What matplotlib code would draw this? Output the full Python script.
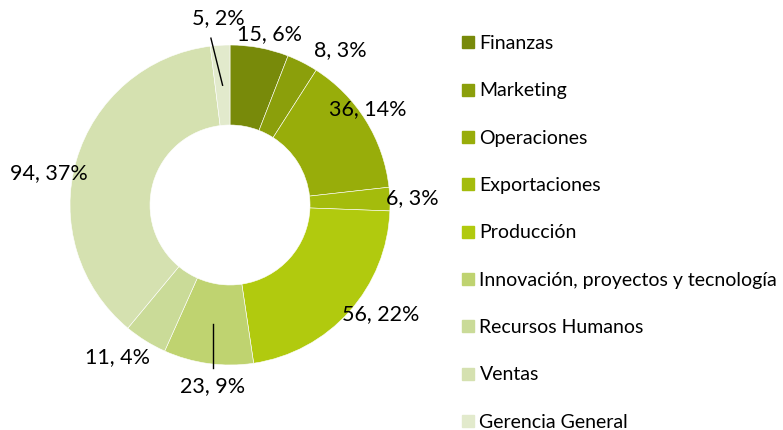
import numpy as np
import matplotlib
matplotlib.use("Agg")
import matplotlib.pyplot as plt
from matplotlib.lines import Line2D

plt.rcParams['font.family'] = ['Lato', 'DejaVu Sans']

areas = ["Finanzas", "Marketing", "Operaciones", "Exportaciones", "Producción",
         "Innovación, proyectos y tecnología", "Recursos Humanos", "Ventas",
         "Gerencia General"]
counts = [15, 8, 36, 6, 56, 23, 11, 94, 5]
pct_labels = [6, 3, 14, 3, 22, 9, 4, 37, 2]
colors = ["#788a0a", "#8b9f0b", "#98ad0a", "#a4bc0c", "#b1ca0e",
          "#bfd370", "#cadb98", "#d5e1b0", "#e2eacc"]

# label placement: radius factor and angle nudge (deg) per slice
lab_r = [1.10, 1.19, 1.05, 1.14, 1.16, 1.135, 1.18, 1.15, 1.17]
lab_da = [-2.5, -8.4, 3.0, 0.1, 5.9, 2.4, -4.5, 6.2, 0.1]
leader = [False, False, False, False, False, True, False, False, True]

fig = plt.figure(figsize=(7.83, 4.30), dpi=100)
ax = fig.add_axes([30 / 783, 25 / 430, 400 / 783, 400 / 430])
ax.set_xlim(-1.25, 1.25)
ax.set_ylim(-1.25, 1.25)
ax.axis("off")

wedges, _ = ax.pie(counts, colors=colors, startangle=90, counterclock=False,
                   radius=1.0, wedgeprops=dict(width=0.5, edgecolor="white", linewidth=0.4))

for i, w in enumerate(wedges):
    mid = np.deg2rad((w.theta1 + w.theta2) / 2)
    ang = mid + np.deg2rad(lab_da[i])
    x, y = lab_r[i] * np.cos(ang), lab_r[i] * np.sin(ang)
    txt = f"{counts[i]}, {pct_labels[i]}%"
    ax.text(x, y, txt, ha="center", va="center", fontsize=15.5, color="black")
    if leader[i]:
        x0, y0 = 0.75 * np.cos(mid), 0.75 * np.sin(mid)
        if y < 0:
            ax.plot([x, x], [y0, y + 0.11], color="black", lw=1)
        else:
            ax.plot([x0, x - 0.045], [y0, y - 0.125], color="black", lw=1)

handles = [Line2D([], [], marker="s", linestyle="none", markersize=8,
                  markerfacecolor=c, markeredgecolor=c) for c in colors]
fig.legend(handles, areas, loc="upper left", bbox_to_anchor=(461 / 783, 1 - 35 / 430),
           frameon=False, fontsize=14, labelspacing=1.56, handlelength=0.7,
           handletextpad=0.25, borderaxespad=0, borderpad=0)

fig.savefig("out.png", dpi=100)
